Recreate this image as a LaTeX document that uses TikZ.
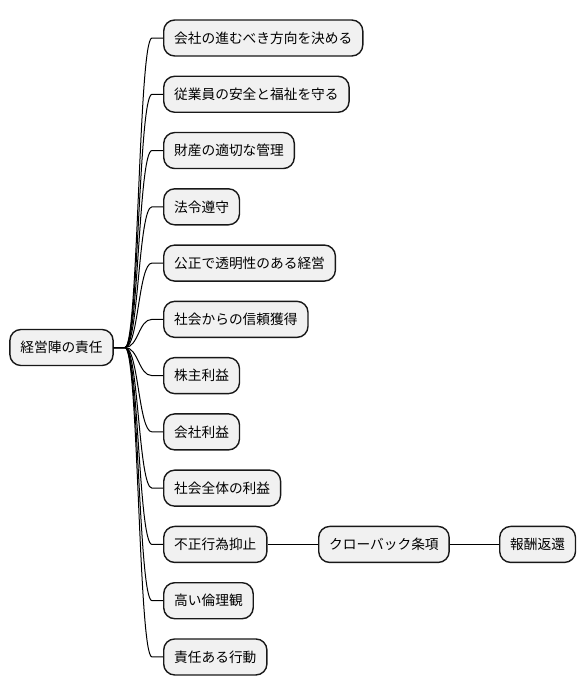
\documentclass[tikz,border=0pt]{standalone}
\usepackage{fontspec}
\setmainfont{Noto Sans CJK JP}
\usetikzlibrary{calc}
\definecolor{nodefill}{HTML}{F1F1F1}
\definecolor{nodeline}{HTML}{181818}
\tikzset{
  mmnode/.style={draw=nodeline, fill=nodefill, line width=1.4pt, rounded corners=11pt,
    minimum height=36pt, inner xsep=10.5pt, inner ysep=0pt, text height=10.4pt, text depth=0pt,
    font=\fontsize{13.7pt}{16pt}\selectfont, anchor=west},
  conn/.style={draw=black, line width=1pt}
}
\begin{document}
\begin{tikzpicture}[x=1pt,y=-1pt]
\useasboundingbox (0,0) rectangle (586,696);
\node[mmnode, anchor=center] (root) at (61.5,347.5) {経営陣の責任};
\coordinate (hub) at (125,347.5);
\foreach \i/\t in {0/会社の進むべき方向を決める,1/従業員の安全と福祉を守る,2/財産の適切な管理,3/法令遵守,4/公正で透明性のある経営,5/社会からの信頼獲得,6/株主利益,7/会社利益,8/社会全体の利益,9/不正行為抑止,10/高い倫理観,11/責任ある行動}{
  \node[mmnode] (c\i) at (163,{38+56.27*\i}) {\t};
  \draw[conn] (root.east) -- (hub) .. controls ($(hub)+(13.5,0)$) and ($(c\i.west)+(-24.5,0)$) .. ($(c\i.west)+(-11,0)$) -- (c\i.west);
}
\node[mmnode] (claw) at (318,{38+56.27*9}) {クローバック条項};
\node[mmnode] (ret) at (499,{38+56.27*9}) {報酬返還};
\draw[conn] (c9.east) -- (claw.west);
\draw[conn] (claw.east) -- (ret.west);
\end{tikzpicture}
\end{document}
